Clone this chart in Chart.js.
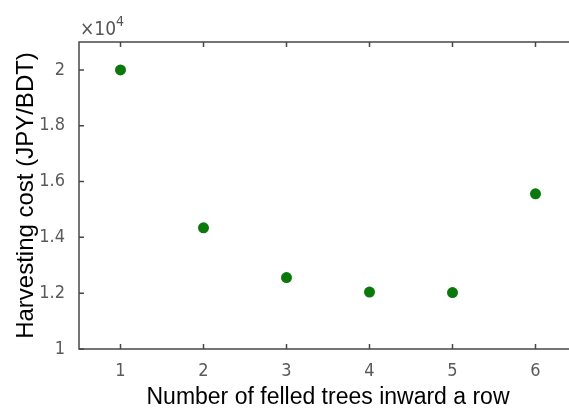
<!DOCTYPE html>
<html>
<head>
<meta charset="utf-8">
<script src="https://cdn.jsdelivr.net/npm/chart.js@4.4.1/dist/chart.umd.min.js"></script>
<style>
  html, body { margin: 0; padding: 0; background: #fff; overflow: hidden; }
  #wrap { width: 569px; height: 409px; overflow: hidden; }
</style>
</head>
<body>
<div id="wrap"><canvas id="costplot" width="578" height="409"></canvas></div>
<script>
// number of felled trees vs harvesting cost
const treeCounts = [1, 2, 3, 4, 5, 6];
const harvestingCost = [20000, 14340, 12560, 12040, 12020, 15560];
const xTickValues = [1, 2, 3, 4, 5, 6];
const yTickValues = [10000, 12000, 14000, 16000, 18000, 20000];

const narrowFont = "'Liberation Sans Narrow', 'Arial Narrow', 'DejaVu Sans Condensed', sans-serif";
const titleFont = "'Liberation Sans', Arial, sans-serif";

// matlab-ish box with inward ticks and the x10^4 multiplier
const boxAxes = {
    id: 'boxAxes',
    afterDraw(chart) {
        const { ctx, chartArea: a, scales: { x, y } } = chart;
        ctx.save();
        ctx.strokeStyle = '#474747';
        ctx.lineWidth = 1.5;
        ctx.strokeRect(a.left, a.top, a.right - a.left, a.bottom - a.top);
        ctx.beginPath();
        x.ticks.forEach(t => {
            const px = x.getPixelForValue(t.value);
            ctx.moveTo(px, a.bottom); ctx.lineTo(px, a.bottom - 5);
            ctx.moveTo(px, a.top); ctx.lineTo(px, a.top + 5);
        });
        y.ticks.forEach(t => {
            const py = y.getPixelForValue(t.value);
            ctx.moveTo(a.left, py); ctx.lineTo(a.left + 5, py);
            ctx.moveTo(a.right, py); ctx.lineTo(a.right - 5, py);
        });
        ctx.stroke();

        ctx.fillStyle = '#555';
        ctx.textBaseline = 'alphabetic';
        ctx.textAlign = 'left';
        ctx.font = '19px ' + narrowFont;
        ctx.fillText('\u00d710', a.left + 1, a.top - 7);
        const w = ctx.measureText('\u00d710').width;
        ctx.font = '14px ' + narrowFont;
        ctx.fillText('4', a.left + 1 + w, a.top - 16);
        ctx.restore();
    }
};

function setupChart() {
    const ctx = document.getElementById('costplot').getContext('2d');
    new Chart(ctx, {
        type: 'scatter',
        data: {
            datasets: [{
                label: 'Harvesting cost',
                data: treeCounts.map((n, i) => ({ x: n, y: harvestingCost[i] })),
                backgroundColor: '#0a780a',
                borderWidth: 0,
                pointRadius: 5.5,
                pointHoverRadius: 5.5
            }]
        },
        options: {
            responsive: false,
            animation: false,
            layout: { autoPadding: false, padding: { top: 42, right: 1, left: 0, bottom: 0 } },
            plugins: { legend: { display: false }, tooltip: { enabled: false } },
            scales: {
                x: {
                    type: 'linear',
                    min: 0.5,
                    max: 6.5,
                    grid: { display: false, drawTicks: false, tickLength: 0 },
                    border: { display: false },
                    afterBuildTicks: s => { s.ticks = xTickValues.map(v => ({ value: v })); },
                    afterFit: s => { s.height = 60; },
                    ticks: { color: '#5a5a5a', padding: 12, font: { family: narrowFont, size: 18 } },
                    title: {
                        display: true,
                        text: 'Number of felled trees inward a row',
                        color: '#000',
                        padding: { top: 0, bottom: 0 },
                        font: { family: titleFont, size: 23, lineHeight: 1 }
                    }
                },
                y: {
                    min: 10000,
                    max: 21000,
                    grid: { display: false, drawTicks: false, tickLength: 0 },
                    border: { display: false },
                    afterBuildTicks: s => { s.ticks = yTickValues.map(v => ({ value: v })); },
                    afterFit: s => { s.width = 79; },
                    ticks: {
                        color: '#5a5a5a',
                        padding: 14,
                        font: { family: narrowFont, size: 18 },
                        callback: v => String(v / 10000)
                    },
                    title: {
                        display: true,
                        text: 'Harvesting cost (JPY/BDT)',
                        color: '#000',
                        padding: { top: 12, bottom: 0 },
                        font: { family: titleFont, size: 24 }
                    }
                }
            }
        },
        plugins: [boxAxes]
    });
}

document.addEventListener('DOMContentLoaded', setupChart);
</script>
</body>
</html>
